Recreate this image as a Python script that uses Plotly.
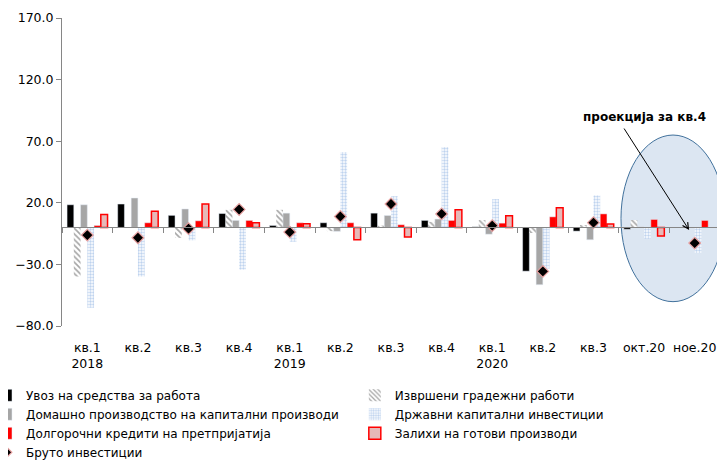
import plotly.graph_objects as go

categories = ["кв.1<br>2018", "кв.2", "кв.3", "кв.4", "кв.1<br>2019", "кв.2", "кв.3", "кв.4",
              "кв.1<br>2020", "кв.2", "кв.3", "окт.20", "ное.20"]
uvoz = [18.4, 19.0, 9.8, 11.3, 1.6, 3.8, 11.6, 5.7, 0.5, -35.5, -3.0, -1.5, None]
izvrseni = [-39.8, None, -8.5, 14.3, 14.3, -3.0, 1.5, 4.5, 6.0, -4.5, 2.0, 6.0, None]
domashno = [18.4, 23.9, 15.0, 5.7, 11.6, -3.2, 9.7, 6.8, -5.5, -46.5, -10.0, 0.5, None]
drzhavni = [-65.2, -39.8, -10.5, -34.3, -11.6, 61.1, 25.4, 65.2, 23.0, -33.5, 26.0, -9.2, -20.8]
dolgorochni = [1.6, 3.8, 5.4, 5.7, 3.8, 3.8, 2.2, 5.7, 3.5, 8.6, 11.0, 6.5, 5.7]
zalihi = [10.6, 13.2, 19.0, 3.8, 3.0, -10.0, -7.8, 14.3, 9.5, 15.9, 2.7, -7.0, None]
bruto = [-6.2, -8.4, -1.0, 14.6, -3.8, 8.9, 19.0, 11.0, 1.5, -35.7, 3.9, None, -12.7]

names = ["Увоз на средства за работа", "Извршени градежни работи",
         "Домашно производство на капитални производи", "Државни капитални инвестиции",
         "Долгорочни кредити на претпријатија", "Залихи на готови производи",
         "Бруто инвестиции"]

FONT = "DejaVu Sans"
xpos = list(range(len(categories)))

fig = go.Figure()
fig.add_bar(x=xpos, y=uvoz, name=names[0], marker=dict(color="#000000"), legend="legend")
fig.add_bar(x=xpos, y=izvrseni, name=names[1], legend="legend2",
            marker=dict(color="white", line=dict(width=0),
                        pattern=dict(shape="\\", fgcolor="#4d4d4d", bgcolor="white",
                                     size=4, solidity=0.4)))
fig.add_bar(x=xpos, y=domashno, name=names[2], marker=dict(color="#a6a6a6"), legend="legend")
fig.add_bar(x=xpos, y=drzhavni, name=names[3], legend="legend2",
            marker=dict(color="white", line=dict(width=0),
                        pattern=dict(shape=".", fgcolor="#7fa7de", bgcolor="white",
                                     size=3, solidity=0.5)))
fig.add_bar(x=xpos, y=dolgorochni, name=names[4], marker=dict(color="#ff0000"), legend="legend")
fig.add_bar(x=xpos, y=zalihi, name=names[5], legend="legend2",
            marker=dict(color="#e6b9b8", line=dict(color="#ff0000", width=1.5)))
fig.add_scatter(x=xpos, y=bruto, name=names[6], mode="markers", legend="legend",
                marker=dict(symbol="diamond", size=9, color="#000000",
                            line=dict(color="#e8a0a0", width=1.2)))
# helper trace for the label axis
fig.add_scatter(x=xpos, y=[None] * len(xpos), xaxis="x2", showlegend=False,
                hoverinfo="skip", mode="markers")

n = len(categories)
fig.update_layout(
    width=717, height=453,
    margin=dict(l=54, r=5, t=10, b=135, autoexpand=False),
    paper_bgcolor="white", plot_bgcolor="white",
    barmode="group", bargap=0.2, bargroupgap=0.0,
    font=dict(family=FONT, size=12, color="#000000"),
    xaxis=dict(range=[-0.5, n - 0.5], anchor="free", position=0.32,
               showline=True, linecolor="#868686", linewidth=1,
               ticks="outside", ticklen=5, tickcolor="#868686",
               tickvals=[i - 0.5 for i in range(n + 1)],
               showticklabels=False, showgrid=False, zeroline=False),
    xaxis2=dict(range=[-0.5, n - 0.5], overlaying="x", anchor="y", side="bottom",
                tickvals=xpos, ticktext=categories, ticks="", showline=False,
                ticklabelstandoff=12,
                showgrid=False, zeroline=False, tickfont=dict(family=FONT, size=12.5)),
    yaxis=dict(range=[-80, 170], tick0=-80, dtick=50, tickformat=".1f",
               showline=True, linecolor="#868686", ticks="outside", ticklen=5,
               tickcolor="#868686", showgrid=False, zeroline=False,
               tickfont=dict(family=FONT, size=12.5)),
    legend=dict(x=-0.1155, y=-0.178, xanchor="left", yanchor="top", orientation="v",
                font=dict(family=FONT, size=12), tracegroupgap=0,
                bgcolor="rgba(0,0,0,0)", itemwidth=30),
    legend2=dict(x=0.445, y=-0.178, xanchor="left", yanchor="top", orientation="v",
                 font=dict(family=FONT, size=12), tracegroupgap=0,
                 bgcolor="rgba(0,0,0,0)", itemwidth=30),
    shapes=[dict(type="circle", xref="paper", yref="paper",
                 x0=0.8495, x1=1.0076, y0=0.079, y1=0.62,
                 fillcolor="#dce6f2", line=dict(color="#41719c", width=1),
                 layer="below")],
    annotations=[
        dict(x=11.0, y=89.6, xref="x", yref="y", text="<b>проекција за кв.4</b>",
             showarrow=False, font=dict(family=FONT, size=12, color="#000000")),
        dict(x=11.89, y=-2.1, xref="x", yref="y", text="", showarrow=True,
             ax=-66, ay=-103, arrowhead=5, arrowsize=1.2, arrowwidth=1,
             arrowcolor="#000000", standoff=0),
    ],
)

fig.write_html("out.html")
